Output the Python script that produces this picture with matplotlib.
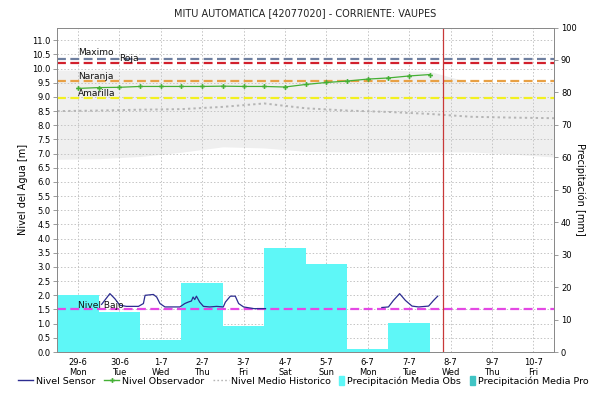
import numpy as np
import matplotlib
matplotlib.use("Agg")
import matplotlib.pyplot as plt
from matplotlib.lines import Line2D
from matplotlib.patches import Patch, Rectangle
from matplotlib.legend_handler import HandlerPatch

plt.rcParams['font.family'] = ['DejaVu Sans']

# ---- data -------------------------------------------------------------
day_labels = ["29-6\nMon", "30-6\nTue", "1-7\nWed", "2-7\nThu", "3-7\nFri",
              "4-7\nSat", "5-7\nSun", "6-7\nMon", "7-7\nTue", "8-7\nWed",
              "9-7\nThu", "10-7\nFri"]

# daily mean precipitation [mm], one bar per day (day 0 = 29-6)
precip_days = [-1, 0, 1, 2, 3, 4, 5, 6, 7, 8]
precip_obs = [27.3, 17.7, 12.3, 3.8, 21.4, 8.1, 31.9, 27.1, 0.8, 9.0]

# observer readings, twice a day [m]
obs_days = [0, 0.5, 1, 1.5, 2, 2.5, 3, 3.5, 4, 4.5, 5, 5.5, 6, 6.5, 7, 7.5, 8, 8.5]
obs_level = [9.30, 9.33, 9.34, 9.37, 9.37, 9.37, 9.37, 9.38, 9.37, 9.37,
             9.35, 9.44, 9.51, 9.56, 9.63, 9.67, 9.74, 9.79]

# automatic sensor, two recorded stretches [m]
sensor_a_days = [0.57, 0.77, 0.89, 1.01, 1.17, 1.46, 1.58, 1.62, 1.82, 1.90,
                 1.98, 2.10, 2.46, 2.58, 2.66, 2.74, 2.78, 2.82, 2.86, 2.94,
                 3.03, 3.18, 3.35, 3.51, 3.56, 3.68, 3.80, 3.88, 4.00, 4.25, 4.53]
sensor_a_level = [1.68, 2.06, 1.88, 1.65, 1.61, 1.61, 1.71, 2.00, 2.03, 1.94,
                  1.71, 1.59, 1.59, 1.71, 1.76, 1.80, 1.94, 1.85, 1.97, 1.76,
                  1.61, 1.59, 1.61, 1.59, 1.76, 1.97, 1.97, 1.71, 1.59, 1.53, 1.53]
sensor_b_days = [7.34, 7.50, 7.62, 7.77, 7.91, 8.07, 8.23, 8.47, 8.59, 8.69]
sensor_b_level = [1.57, 1.59, 1.82, 2.06, 1.82, 1.62, 1.59, 1.62, 1.82, 1.97]

# historical statistics [m]
hist_days = [-0.5, 0.5, 1.5, 2.5, 3.5, 4.5, 5.5, 6.5, 7.5, 8.5, 9.5, 10.5, 11.5]
hist_upper = [9.95, 9.95, 9.95, 9.95, 9.95, 9.95, 9.95, 9.95, 9.95, 9.9, 9.5, 9.5, 9.5]
hist_lower = [6.8, 6.82, 6.9, 7.05, 7.24, 7.2, 7.08, 7.06, 7.06, 7.06, 7.06, 6.98, 6.88]
hist_mean = [8.5, 8.52, 8.55, 8.57, 8.65, 8.77, 8.6, 8.52, 8.47, 8.4, 8.3, 8.27, 8.25]

# alert levels [m]
threshold_names = ["Maximo", "Roja", "Naranja", "Amarilla", "Nivel Bajo"]
threshold_values = [10.33, 10.20, 9.55, 8.95, 1.53]

now_day = 8.83

# ---- styles -----------------------------------------------------------
threshold_colors = ["#6f7f9f", "#d2202c", "#e8a044", "#f2f020", "#e448e4"]
threshold_label_x = [0, 1, 0, 0, 0]
threshold_label_dy = [4.6, 3.5, 3.2, 3.2, 2.6]
navy = "#2c2c90"
green = "#45b035"
cyan = "#5ef7f7"
teal = "#40c4c4"
band_gray = "#efefef"
mean_gray = "#b5b5b5"
spine_gray = "#8a8a8a"

fig = plt.figure(figsize=(5.89, 4.03), dpi=100)
rect = [56.5 / 589, 1 - 352 / 403, (554 - 56.5) / 589, (352 - 27.5) / 403]

ax = fig.add_axes(rect)           # grid and historical band
ax2 = ax.twinx()                  # precipitation bars (right scale)
ax3 = ax.twinx()                  # water-level lines on top
ax.set_zorder(0)
ax2.set_zorder(1)
ax3.set_zorder(2)
ax2.patch.set_visible(False)
ax3.patch.set_visible(False)

xlim = (-0.52, 11.5)
ylim = (0, 11.45)
for a in (ax, ax2, ax3):
    a.set_xlim(*xlim)
ax.set_ylim(*ylim)
ax3.set_ylim(*ylim)
ax2.set_ylim(0, 100)

# grid
ax.set_xticks(range(len(day_labels)))
ax.set_xticklabels(day_labels, fontsize=6, linespacing=1.25)
ax.set_yticks(np.arange(0, 11.01, 0.5))
ax.set_yticklabels([f"{v:.1f}" for v in np.arange(0, 11.01, 0.5)], fontsize=6)
ax.grid(True, color="#c4c4c4", linestyle=(0, (1.5, 2.0)), linewidth=0.7)
ax.tick_params(axis="x", length=0, pad=4)
ax.tick_params(axis="y", length=3, width=0.6, color=spine_gray, pad=1.5)

# historical band
ax.fill_between(hist_days, hist_lower, hist_upper, color=band_gray, linewidth=0)

# precipitation bars
ax2.bar(precip_days, precip_obs, width=1.0, color=cyan, linewidth=0, align="center")
ax2.set_yticks(range(0, 101, 10))
ax2.tick_params(axis="y", labelsize=6, length=3, width=0.6, color=spine_gray, pad=2)
ax2.set_ylabel("Precipitación [mm]", fontsize=7, rotation=270, labelpad=6)

# levels
ax3.yaxis.set_visible(False)
ax3.plot(hist_days, hist_mean, color=mean_gray, linestyle=(0, (1.2, 1.6)), linewidth=1.4)
for name, val, col, lx, dy in zip(threshold_names, threshold_values, threshold_colors,
                                  threshold_label_x, threshold_label_dy):
    ax3.axhline(val, color=col, linewidth=1.6, linestyle=(0, (4, 2)))
    ax3.annotate(name, xy=(lx, val), xytext=(0, dy), textcoords="offset points",
                 ha="left", va="center", fontsize=6.5, color="#111111")
ax3.plot(sensor_a_days, sensor_a_level, color=navy, linewidth=0.9)
ax3.plot(sensor_b_days, sensor_b_level, color=navy, linewidth=0.9)
ax3.plot(obs_days, obs_level, color=green, linewidth=0.9, marker="P",
         markersize=3.5, markeredgewidth=0)
ax3.axvline(now_day, color="#c83838", linewidth=0.9)

for a in (ax, ax2, ax3):
    for s in a.spines.values():
        s.set_color(spine_gray)
        s.set_linewidth(0.7)

ax.set_ylabel("Nivel del Agua [m]", fontsize=7, labelpad=3)

fig.text(0.5175, 1 - 13 / 403, "MITU AUTOMATICA [42077020] - CORRIENTE: VAUPES",
         ha="center", va="center", fontsize=7, color="#222222")

# legend: line entries, then precipitation entries with narrow swatches
leg_size = 6.8
line_handles = [
    Line2D([], [], color=navy, linewidth=1),
    Line2D([], [], color=green, linewidth=1, marker="P", markersize=3.5, markeredgewidth=0),
    Line2D([], [], color=mean_gray, linewidth=1, linestyle=(0, (1.2, 1.6))),
]
line_labels = ["Nivel Sensor", "Nivel Observador", "Nivel Medio Historico"]
leg1 = fig.legend(line_handles, line_labels, loc="center left",
                  bbox_to_anchor=(18 / 589, 22 / 403), ncol=3, frameon=False,
                  fontsize=leg_size, handlelength=1.6, handletextpad=0.3,
                  columnspacing=0.95, borderpad=0, borderaxespad=0)


def narrow_swatch(legend, orig_handle, xdescent, ydescent, width, height, fontsize):
    return Rectangle((-xdescent, -ydescent - 0.2 * height), width, 1.4 * height)


patch_handles = [Patch(color=cyan), Patch(color=teal)]
patch_labels = ["Precipitación Media Obs", "Precipitación Media Pro"]
fig.canvas.draw()
bb = leg1.get_window_extent()
leg2 = fig.legend(patch_handles, patch_labels, loc="center left",
                  bbox_to_anchor=((bb.x1 + 8) / 589, 22 / 403), ncol=2, frameon=False,
                  fontsize=leg_size, handlelength=0.55, handletextpad=0.3,
                  columnspacing=0.95, borderpad=0, borderaxespad=0,
                  handler_map={Patch: HandlerPatch(patch_func=narrow_swatch)})

fig.savefig("out.png", dpi=100)
